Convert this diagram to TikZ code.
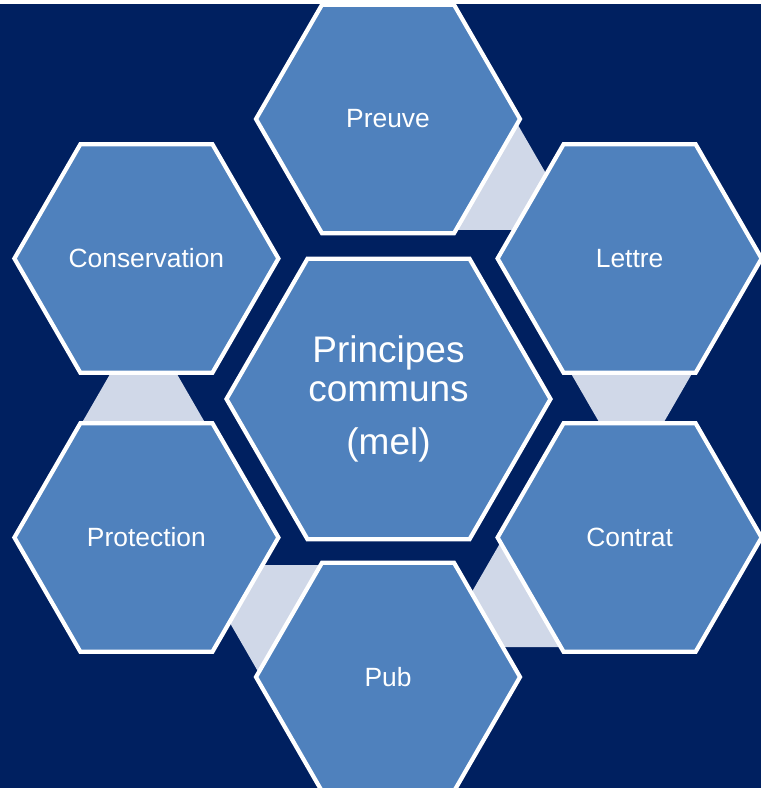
\documentclass[tikz,border=0pt]{standalone}
\usepackage{fontspec}
\setmainfont{Liberation Sans}
\usetikzlibrary{shapes.geometric}
\definecolor{navy}{RGB}{0,32,96}
\definecolor{hexblue}{RGB}{79,129,189}
\definecolor{connlight}{RGB}{208,216,232}
\begin{document}
\begin{tikzpicture}[x=1pt,y=-1pt,
  hexbox/.style={regular polygon, regular polygon sides=6, fill=hexblue, draw=white,
    line width=4.2pt, text=white, inner sep=0pt, outer sep=0pt},
  outerhex/.style={hexbox, minimum size=264pt, font=\fontsize{26.4}{30}\selectfont},
  centerhex/.style={hexbox, minimum size=324pt, font=\fontsize{37}{39}\selectfont, align=center},
  connfill/.style={fill=connlight}]
\useasboundingbox (0,0) rectangle (761,788);
\clip (0,0) rectangle (761,788);
\fill[white] (0,0) rectangle (761,788);
\fill[navy] (0,4) rectangle (761,788);
% transition hexagons (partly hidden)
\foreach \cx/\cy in {485.6/176.3, 631.5/370.9, 533.1/593.3, 289.5/618.7, 143.5/423.5}{
  \fill[connfill] (\cx,\cy) +(0:62) -- +(60:62) -- +(120:62) -- +(180:62)
    -- +(240:62) -- +(300:62) -- cycle;
}
% outer hexagons
\node[outerhex] (preuve) at (388,119) {Preuve};
\node[outerhex] (lettre) at (629.6,258.5) {Lettre};
\node[outerhex] (contrat) at (629.6,537.5) {Contrat};
\node[outerhex] (pub) at (388,677) {Pub};
\node[outerhex] (protection) at (146.4,537.5) {Protection};
\node[outerhex] (conservation) at (146.4,258.5) {Conservation};
% centre hexagon
\node[centerhex] (centre) at (388.5,399) {Principes\\communs\\[14pt](mel)};
\end{tikzpicture}
\end{document}
